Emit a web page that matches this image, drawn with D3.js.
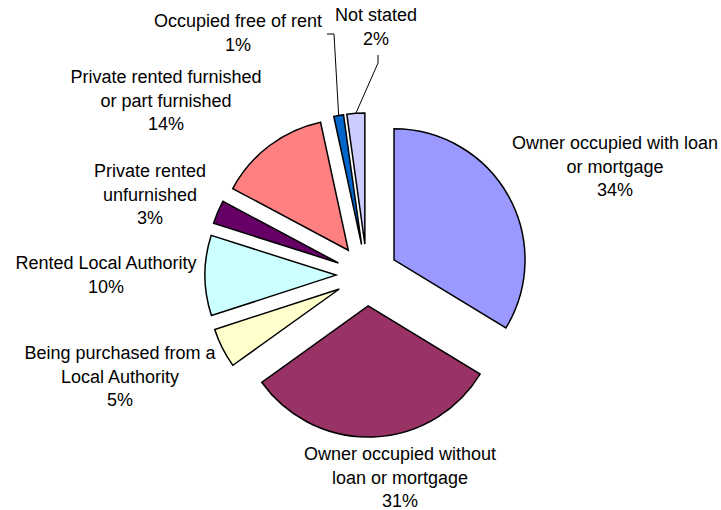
<!DOCTYPE html>
<html>
<head>
<meta charset="utf-8">
<script src="https://cdn.jsdelivr.net/npm/d3@7"></script>
<style>
  body { margin: 0; background: #fff; }
  text { font-family: "Liberation Sans", Arial, sans-serif; font-size: 18px; fill: #000; }
</style>
</head>
<body>
<script>

  // tenure categories, clockwise from 12 o'clock
  var categories = [
    "Owner occupied with loan or mortgage",
    "Owner occupied without loan or mortgage",
    "Being purchased from a Local Authority",
    "Rented Local Authority",
    "Private rented unfurnished",
    "Private rented furnished or part furnished",
    "Occupied free of rent",
    "Not stated"
  ];
  var values = [33.7, 31.4, 4.9, 9.9, 2.9, 13.8, 1.2, 2.2];
  var colors = ["#9999ff", "#993366", "#ffffcc", "#ccffff", "#660066", "#ff8080", "#0066cc", "#ccccff"];

  // how each label is broken over lines
  var labelLines = [
    ["Owner occupied with loan", "or mortgage"],
    ["Owner occupied without", "loan or mortgage"],
    ["Being purchased from a", "Local Authority"],
    ["Rented Local Authority"],
    ["Private rented", "unfurnished"],
    ["Private rented furnished", "or part furnished"],
    ["Occupied free of rent"],
    ["Not stated"]
  ];
  // label centre x and first baseline y
  var labelPos = [[615, 149], [400, 460], [120, 359], [106, 269], [150, 177], [166, 83], [238, 27], [376, 21]];
  // leader lines for the thin slices: start point and elbow
  var leaders = [
    { i: 6, from: [327, 34], elbow: [334, 34] },
    { i: 7, from: [378, 55], elbow: [378, 63] }
  ];

  var width = 721, height = 510;
  var cx = 367, cy = 275, radius = 131, explode = 31, lineH = 23.5;

  var svg = d3.select("body").append("svg")
      .attr("width", width)
      .attr("height", height);

  var pie = d3.pie().sort(null).value(function(d) { return d; });
  var arc = d3.arc().innerRadius(0).outerRadius(radius);
  var arcs = pie(values);

  var midAngle = function(d) { return (d.startAngle + d.endAngle) / 2; };

  var g = svg.append("g").attr("transform", "translate(" + cx + "," + cy + ")");

  g.selectAll("path.slice")
    .data(arcs)
    .enter().append("path")
      .attr("class", "slice")
      .attr("d", arc)
      .attr("fill", function(d, i) { return colors[i]; })
      .attr("stroke", "#000")
      .attr("stroke-width", 1.5)
      .attr("stroke-linejoin", "miter")
      .attr("transform", function(d) {
        var a = midAngle(d);
        return "translate(" + (Math.sin(a) * explode) + "," + (-Math.cos(a) * explode) + ")";
      });

  // leader lines
  svg.selectAll("polyline.leader")
    .data(leaders)
    .enter().append("polyline")
      .attr("class", "leader")
      .attr("fill", "none")
      .attr("stroke", "#000")
      .attr("stroke-width", 1)
      .attr("points", function(l) {
        var a = midAngle(arcs[l.i]);
        var r = radius + explode;
        var end = [cx + Math.sin(a) * r, cy - Math.cos(a) * r];
        return [l.from, l.elbow, end].map(function(p) { return p.join(","); }).join(" ");
      });

  // labels
  var labels = svg.selectAll("text.label")
    .data(categories)
    .enter().append("text")
      .attr("class", "label")
      .attr("text-anchor", "middle")
      .attr("x", function(d, i) { return labelPos[i][0]; })
      .attr("y", function(d, i) { return labelPos[i][1]; });

  labels.each(function(d, i) {
    var t = d3.select(this);
    var lines = labelLines[i].concat([Math.round(values[i]) + "%"]);
    lines.forEach(function(s, k) {
      t.append("tspan")
        .attr("x", labelPos[i][0])
        .attr("dy", k === 0 ? 0 : lineH)
        .text(s);
    });
  });

</script>
</body>
</html>
